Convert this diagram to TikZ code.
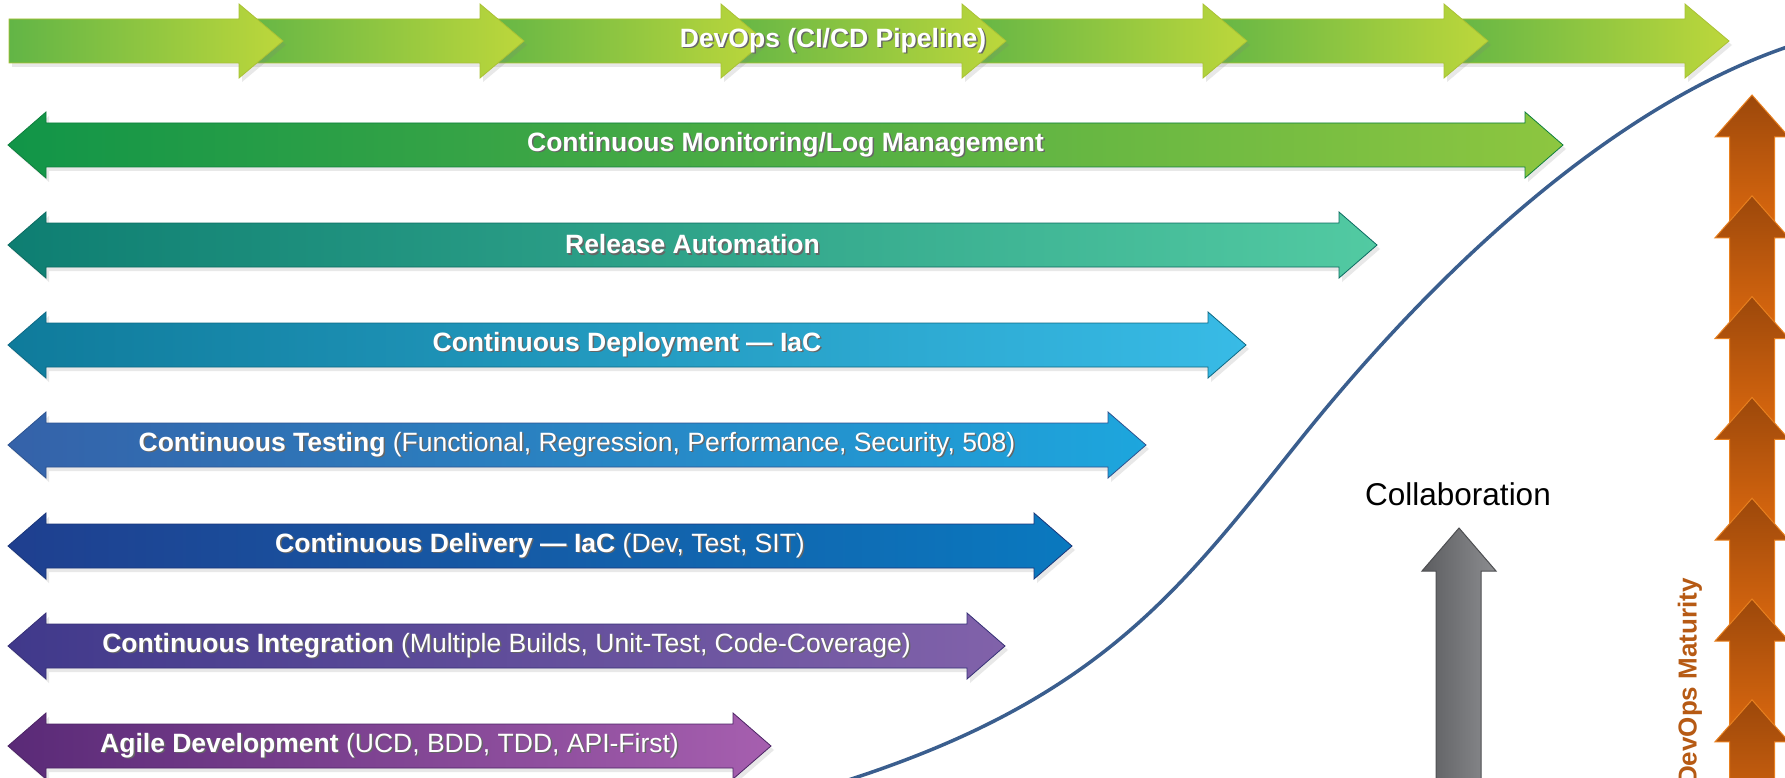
\documentclass[tikz,border=0pt]{standalone}
\usepackage{fontspec}
\setmainfont{Liberation Sans}
\usetikzlibrary{shadows}

% colours of the stages, left end / right end
\definecolor{pipeA}{HTML}{62B546}
\definecolor{pipeB}{HTML}{BDD73B}
\definecolor{monA}{HTML}{119548}
\definecolor{monB}{HTML}{8DC640}
\definecolor{relA}{HTML}{0E7E72}
\definecolor{relB}{HTML}{52CAA2}
\definecolor{depA}{HTML}{0F7B9B}
\definecolor{depB}{HTML}{38BBE6}
\definecolor{tstA}{HTML}{3562A9}
\definecolor{tstB}{HTML}{1DA6DD}
\definecolor{dlvA}{HTML}{1F3F8F}
\definecolor{dlvB}{HTML}{0A79BF}
\definecolor{intA}{HTML}{40398B}
\definecolor{intB}{HTML}{8162AA}
\definecolor{aglA}{HTML}{5A2A77}
\definecolor{aglB}{HTML}{A65FAF}
\definecolor{rustA}{HTML}{9C480B}
\definecolor{rustB}{HTML}{E06B0F}
\definecolor{rustedge}{HTML}{E8801F}
\definecolor{rusttext}{HTML}{B65A14}
\definecolor{greyA}{HTML}{5C5D60}
\definecolor{greyB}{HTML}{8C8D90}
\definecolor{curveblue}{HTML}{3A5E8E}

% white label with a dark shadow behind it
\newcommand{\shadowed}[1]{\makebox[0pt][l]{\hspace{1.5pt}\raisebox{-1.5pt}{\color{black!60}#1}}#1}

\begin{document}
\begin{tikzpicture}[x=1pt, y=-1pt,
    soft/.style={drop shadow={shadow xshift=3pt, shadow yshift=-4pt, opacity=0.18}},
    pipeseg/.style={soft, left color=pipeA, right color=pipeB, draw=pipeB!90!black, line width=0.8pt},
    stagearrow/.style={soft, line width=0.8pt},
    stagetext/.style={text=white, inner sep=0pt, font=\fontsize{26.5}{30}\selectfont},
    maturityseg/.style={top color=rustA, bottom color=rustB, draw=rustedge, line width=1pt}]

    \useasboundingbox (0,0) rectangle (1785,778);
    \clip (0,0) rectangle (1785,778);

    % pipeline on top: 7 chained segments, drawn right to left so each head lies on the next body
    \foreach \k in {6,5,...,0} {
        \pgfmathsetmacro\hb{239+241*\k}
        \pgfmathsetmacro\bs{ifthenelse(\k==0, 9, \hb-241)}
        \shade[pipeseg] (\bs,19) -- (\hb,19) -- (\hb,4) -- (\hb+44,41) -- (\hb,78) -- (\hb,63) -- (\bs,63) -- cycle;
    }
    \node[stagetext] (pipeline) at (833,41) {\shadowed{\textbf{DevOps (CI/CD Pipeline)}}};

    % the two-way stage arrows: centre y / right tip / colours / text
    \foreach \y/\tip/\cl/\cr/\txt in {
        145/1563/monA/monB/{\textbf{Continuous Monitoring/Log Management}},
        245/1377/relA/relB/{\textbf{Release Automation}},
        345/1246/depA/depB/{\textbf{Continuous Deployment — IaC}},
        445/1146/tstA/tstB/{\textbf{Continuous Testing} (Functional, Regression, Performance, Security, 508)},
        546/1072/dlvA/dlvB/{\textbf{Continuous Delivery — IaC} (Dev, Test, SIT)},
        646/1005/intA/intB/{\textbf{Continuous Integration} (Multiple Builds, Unit-Test, Code-Coverage)},
        746/771/aglA/aglB/{\textbf{Agile Development} (UCD, BDD, TDD, API-First)}} {
        \shade[stagearrow, left color=\cl, right color=\cr, draw=\cl!85!black]
            (8,\y) -- (46,\y-33) -- (46,\y-22) -- (\tip-38,\y-22) -- (\tip-38,\y-33) -- (\tip,\y)
            -- (\tip-38,\y+33) -- (\tip-38,\y+22) -- (46,\y+22) -- (46,\y+33) -- cycle;
        \pgfmathsetmacro\mx{(8+\tip)/2}
        \node[stagetext] (stage\y) at (\mx,\y) {\shadowed{\txt}};
    }

    % S-curve
    \draw[curveblue, line width=3.5pt] (842,782) .. controls (1100,700) and (1180,590) .. (1300,440)
        .. controls (1420,290) and (1600,110) .. (1790,46);

    % collaboration arrow
    \shade[left color=greyA, right color=greyB, draw=greyA!85!black, line width=1pt]
        (1459,528) -- (1496,571) -- (1481,571) -- (1481,790) -- (1436,790) -- (1436,571) -- (1422,571) -- cycle;
    \node[font=\fontsize{31.5}{36}\selectfont] (collab) at (1458,494) {Collaboration};

    % maturity ladder on the right, top to bottom
    \foreach \k in {0,...,7} {
        \pgfmathsetmacro\tp{95+100.8*\k}
        \shade[maturityseg] (1752,\tp) -- (1789,\tp+42) -- (1774.5,\tp+42) -- (1774.5,\tp+143)
            -- (1729.5,\tp+143) -- (1729.5,\tp+42) -- (1715,\tp+42) -- cycle;
    }
    \node[rotate=90, anchor=east, inner sep=0pt, text=rusttext, font=\bfseries\fontsize{26}{30}\selectfont]
        (maturity) at (1690,578) {DevOps Maturity};
\end{tikzpicture}
\end{document}
